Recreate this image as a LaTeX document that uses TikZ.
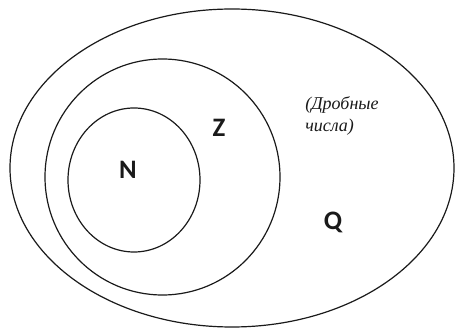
\documentclass[tikz,border=0pt]{standalone}
\usepackage{fontspec}
\setsansfont{Carlito}
\newfontfamily\noteFont{Liberation Serif}[UprightFont=*-Italic]
\usepackage{xcolor}
\usepackage{tikz}
\definecolor{SetInk}{HTML}{1A1A1A}
\tikzset{
  setline/.style={SetInk,line width=0.9pt},
  setname/.style={font=\sffamily\bfseries\fontsize{20}{22}\selectfont,text=SetInk,inner sep=0pt},
  setnote/.style={font=\noteFont\fontsize{13.5}{17}\selectfont,text=SetInk,align=left,anchor=north west,inner sep=0pt}
}

\begin{document}
\begin{tikzpicture}[x=0.75pt,y=-0.75pt]
  \useasboundingbox (0,0) rectangle (455,328);
  \fill[white] (0,0) rectangle (455,328);
  \draw[setline] (232,168) ellipse [x radius=222,y radius=159];
  \draw[setline] (162.5,177) ellipse [x radius=117.5,y radius=118];
  \draw[setline] (134,180) ellipse [x radius=66,y radius=72];
  \node[setname] (nat) at (128,170) {N};
  \node[setname] (int) at (219,128) {Z};
  \node[setname] (rat) at (333,222) {Q};
  \node[setnote] (frac) at (305,96) {(Дробные\\числа)};
\end{tikzpicture}
\end{document}
